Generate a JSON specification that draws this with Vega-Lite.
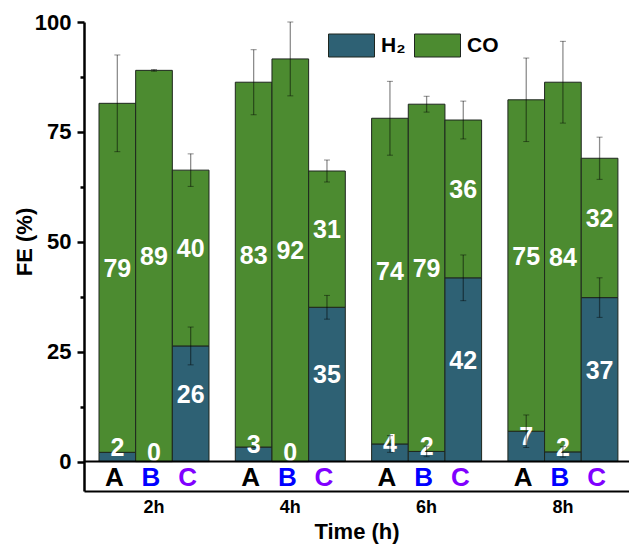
{
  "$schema": "https://vega.github.io/schema/vega-lite/v6.json",
  "width": 545,
  "height": 469,
  "autosize": {"type": "none"},
  "padding": {"left": 84, "top": 22, "right": 0, "bottom": 53},
  "background": "white",
  "config": {
    "font": "Liberation Sans",
    "view": {"stroke": null},
    "axis": {"grid": false}
  },
  "data": {
    "values": [
      {"time": "2h", "sample": "A", "gas": "H₂", "value": 2.1, "err": 0},
      {"time": "2h", "sample": "A", "gas": "CO", "value": 79.4, "err": 11},
      {"time": "2h", "sample": "B", "gas": "H₂", "value": 0, "err": 0},
      {"time": "2h", "sample": "B", "gas": "CO", "value": 89.0, "err": 0.2},
      {"time": "2h", "sample": "C", "gas": "H₂", "value": 26.3, "err": 4.3},
      {"time": "2h", "sample": "C", "gas": "CO", "value": 40.0, "err": 3.7},
      {"time": "4h", "sample": "A", "gas": "H₂", "value": 3.3, "err": 0},
      {"time": "4h", "sample": "A", "gas": "CO", "value": 83.0, "err": 7.4},
      {"time": "4h", "sample": "B", "gas": "H₂", "value": 0, "err": 0},
      {"time": "4h", "sample": "B", "gas": "CO", "value": 91.6, "err": 8.4},
      {"time": "4h", "sample": "C", "gas": "H₂", "value": 35.1, "err": 2.7},
      {"time": "4h", "sample": "C", "gas": "CO", "value": 31.0, "err": 2.5},
      {"time": "6h", "sample": "A", "gas": "H₂", "value": 4.0, "err": 1.9},
      {"time": "6h", "sample": "A", "gas": "CO", "value": 74.1, "err": 8.4},
      {"time": "6h", "sample": "B", "gas": "H₂", "value": 2.3, "err": 1.2},
      {"time": "6h", "sample": "B", "gas": "CO", "value": 79.0, "err": 1.8},
      {"time": "6h", "sample": "C", "gas": "H₂", "value": 41.8, "err": 5.2},
      {"time": "6h", "sample": "C", "gas": "CO", "value": 35.9, "err": 4.3},
      {"time": "8h", "sample": "A", "gas": "H₂", "value": 6.9, "err": 3.7},
      {"time": "8h", "sample": "A", "gas": "CO", "value": 75.4, "err": 9.5},
      {"time": "8h", "sample": "B", "gas": "H₂", "value": 2.2, "err": 1.2},
      {"time": "8h", "sample": "B", "gas": "CO", "value": 84.1, "err": 9.3},
      {"time": "8h", "sample": "C", "gas": "H₂", "value": 37.3, "err": 4.5},
      {"time": "8h", "sample": "C", "gas": "CO", "value": 31.7, "err": 4.8}
    ]
  },
  "transform": [
    {"stack": "value", "groupby": ["time", "sample"], "sort": [{"field": "gas", "order": "descending"}], "as": ["y0", "y1"]},
    {"calculate": "(datum.y0 + datum.y1) / 2", "as": "mid"},
    {"calculate": "datum.y1 - datum.err", "as": "lo"},
    {"calculate": "datum.y1 + datum.err", "as": "hi"}
  ],
  "encoding": {
    "x": {
      "field": "time",
      "type": "nominal",
      "scale": {"paddingInner": 0.193, "paddingOuter": 0.0957, "align": 0.575},
      "axis": {
        "title": "Time (h)",
        "titleFontSize": 22,
        "titleFontWeight": "bold",
        "titleColor": "black",
        "titleBaseline": "alphabetic",
        "titleY": 47,
        "labelAngle": 0,
        "labelFontSize": 18,
        "labelFontWeight": "bold",
        "labelColor": "black",
        "labelBaseline": "top",
        "labelPadding": 7,
        "ticks": false,
        "domainColor": "black",
        "domainWidth": 2
      }
    },
    "xOffset": {
      "field": "sample",
      "type": "nominal",
      "scale": {"paddingInner": 0, "paddingOuter": 0}
    }
  },
  "layer": [
    {
      "mark": {"type": "bar", "stroke": "#1e261e", "strokeWidth": 1},
      "encoding": {
        "y": {
          "field": "y1",
          "type": "quantitative",
          "scale": {"domain": [-6.7, 100], "nice": false, "zero": false},
          "axis": {
            "title": "FE (%)",
            "titleFontSize": 22,
            "titleFontWeight": "bold",
            "titleColor": "black",
            "titleAngle": -90,
            "titleBaseline": "alphabetic",
            "titleAlign": "center",
            "titleX": -53,
            "titleY": 219.5,
            "values": [0, 12.5, 25, 37.5, 50, 62.5, 75, 87.5, 100],
            "labelExpr": "datum.value % 25 === 0 ? datum.label : ''",
            "labelFontSize": 22,
            "labelFontWeight": "bold",
            "labelColor": "black",
            "labelPadding": 6,
            "tickSize": {"condition": {"test": "datum.value % 25 === 0", "value": 7}, "value": 4},
            "tickWidth": 2.5,
            "tickColor": "black",
            "domainColor": "black",
            "domainWidth": 2.5
          }
        },
        "y2": {"field": "y0"},
        "color": {
          "field": "gas",
          "type": "nominal",
          "scale": {"domain": ["H₂", "CO"], "range": ["#2e6174", "#4c8b30"]},
          "legend": {
            "title": null,
            "orient": "none",
            "direction": "horizontal",
            "legendX": 244,
            "legendY": 0,
            "padding": 0,
            "symbolType": "M-1,-0.5H1V0.5H-1Z",
            "symbolSize": 2116,
            "symbolStrokeColor": "#1e261e",
            "symbolStrokeWidth": 1,
            "symbolOpacity": 1,
            "labelFontSize": 21,
            "labelFontWeight": "bold",
            "labelColor": "black",
            "labelOffset": 6,
            "columnPadding": 6
          }
        }
      }
    },
    {
      "mark": {"type": "text", "color": "white", "fontSize": 25, "fontWeight": "bold", "baseline": "alphabetic", "dy": -1},
      "encoding": {
        "y": {"field": "mid", "type": "quantitative"},
        "text": {"field": "value", "type": "quantitative", "format": ".0f"}
      }
    },
    {
      "transform": [{"filter": "datum.err > 0"}],
      "mark": {"type": "rule", "color": "black", "opacity": 0.45, "strokeWidth": 1.3},
      "encoding": {
        "y": {"field": "lo", "type": "quantitative"},
        "y2": {"field": "hi"}
      }
    },
    {
      "transform": [{"filter": "datum.err > 0"}],
      "mark": {"type": "tick", "color": "black", "opacity": 0.45, "thickness": 1, "size": 6},
      "encoding": {
        "y": {"field": "lo", "type": "quantitative"}
      }
    },
    {
      "transform": [{"filter": "datum.err > 0"}],
      "mark": {"type": "tick", "color": "black", "opacity": 0.45, "thickness": 1, "size": 6},
      "encoding": {
        "y": {"field": "hi", "type": "quantitative"}
      }
    },
    {
      "transform": [{"filter": "datum.gas === 'H₂' && datum.time === '2h' && datum.sample === 'A'"}],
      "mark": {"type": "rule", "color": "black", "strokeWidth": 2},
      "encoding": {
        "x": {"value": 0},
        "x2": {"value": 545},
        "xOffset": {"value": 0},
        "y": {"datum": 0, "type": "quantitative"}
      }
    },
    {
      "transform": [{"filter": "datum.gas === 'H₂'"}],
      "mark": {"type": "text", "fontSize": 26, "fontWeight": "bold", "baseline": "alphabetic", "dx": -3},
      "encoding": {
        "y": {"datum": -5.5, "type": "quantitative"},
        "text": {"field": "sample"},
        "color": {
          "condition": [
            {"test": "datum.sample === 'A'", "value": "black"},
            {"test": "datum.sample === 'B'", "value": "#0000ff"}
          ],
          "value": "#8000ff"
        }
      }
    }
  ]
}
